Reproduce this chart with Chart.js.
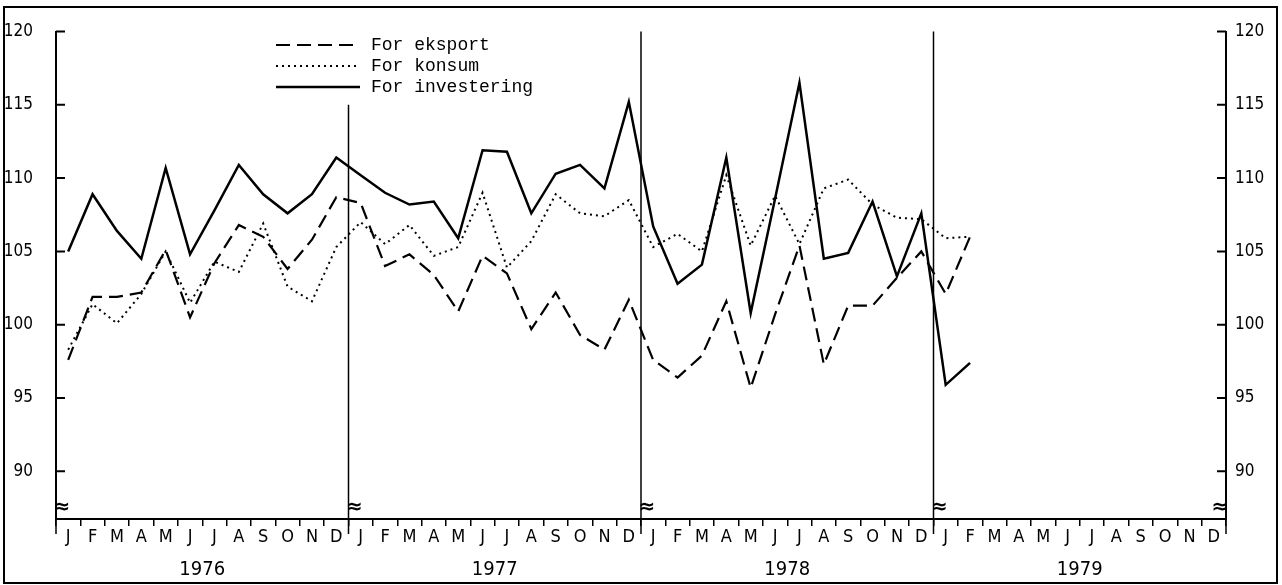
<!DOCTYPE html>
<html>
<head>
<meta charset="utf-8">
<script src="https://cdn.jsdelivr.net/npm/chart.js@4.4.1/dist/chart.umd.min.js"></script>
<style>
  html, body { margin: 0; padding: 0; background: #fff; }
  #wrap { position: relative; width: 1282px; height: 585px; }
</style>
</head>
<body>
<div id="wrap"><canvas id="chart"></canvas></div>
<script>
// month letters and years on the x axis
const monthLetters = ['J', 'F', 'M', 'A', 'M', 'J', 'J', 'A', 'S', 'O', 'N', 'D'];
const years = ['1976', '1977', '1978', '1979'];
const yTicks = [90, 95, 100, 105, 110, 115, 120];

// index values, Jan 1976 - Feb 1979
const eksport = [
  97.6, 101.9, 101.9, 102.2, 105.1, 100.5, 104.2, 106.8, 106.0, 103.8, 105.8, 108.7,
  108.3, 104.0, 104.8, 103.4, 100.9, 104.7, 103.5, 99.7, 102.2, 99.3, 98.3, 101.7,
  97.6, 96.4, 97.9, 101.6, 95.7, 100.7, 105.4, 97.3, 101.3, 101.3, 103.2, 105.0,
  102.1, 106.0
];
const konsum = [
  98.3, 101.4, 100.1, 102.1, 105.0, 101.5, 104.3, 103.6, 106.9, 102.6, 101.6, 105.3,
  107.0, 105.5, 106.8, 104.7, 105.3, 109.0, 103.9, 105.7, 108.9, 107.6, 107.4, 108.5,
  105.3, 106.2, 105.0, 110.2, 105.4, 108.8, 105.5, 109.3, 109.9, 108.2, 107.3, 107.2,
  105.9, 106.0
];
const investering = [
  105.0, 108.9, 106.4, 104.5, 110.7, 104.8, 107.8, 110.9, 108.9, 107.6, 108.9, 111.4,
  110.2, 109.0, 108.2, 108.4, 105.9, 111.9, 111.8, 107.6, 110.3, 110.9, 109.3, 115.2,
  106.7, 102.8, 104.1, 111.4, 100.8, 108.6, 116.5, 104.5, 104.9, 108.4, 103.3, 107.6,
  95.9, 97.4
];

const labels = [].concat(monthLetters, monthLetters, monthLetters, monthLetters);

Chart.defaults.font.family = "'Liberation Sans Narrow', 'DejaVu Sans Condensed', 'Liberation Sans', sans-serif";
Chart.defaults.color = '#000';

const decor = {
  id: 'decor',
  afterDraw(chart) {
    const ctx = chart.ctx;
    const a = chart.chartArea;
    const x = chart.scales.x;
    const y = chart.scales.y;
    const step = x.getPixelForValue(1) - x.getPixelForValue(0);
    ctx.save();
    ctx.strokeStyle = '#000';
    ctx.fillStyle = '#000';

    // outer frame
    ctx.lineWidth = 2;
    ctx.strokeRect(4, 7, 1273, 576);

    // inside ticks on both y axes
    ctx.lineWidth = 2;
    yTicks.forEach(v => {
      const py = y.getPixelForValue(v);
      ctx.beginPath();
      ctx.moveTo(a.left, py); ctx.lineTo(a.left + 9, py);
      ctx.moveTo(a.right - 9, py); ctx.lineTo(a.right, py);
      ctx.stroke();
    });

    // year dividers and long ticks
    ctx.lineWidth = 1.5;
    [0, 12, 24, 36, 48].forEach(b => {
      const px = x.getPixelForValue(0) - step / 2 + b * step;
      let top = a.bottom;
      if (b === 12) top = y.getPixelForValue(115);
      if (b === 24 || b === 36) top = y.getPixelForValue(120);
      ctx.beginPath();
      ctx.moveTo(px, top);
      ctx.lineTo(px, a.bottom + 15);
      ctx.stroke();
      // axis break mark
      ctx.font = "bold 20px 'DejaVu Sans'";
      ctx.textAlign = 'center';
      ctx.textBaseline = 'middle';
      ctx.fillText('\u2248', b === 48 ? px - 6 : px + 6, a.bottom - 11);
    });

    // legend
    const rows = [45, 66, 87];
    chart.data.datasets.forEach((ds, i) => {
      ctx.lineWidth = ds.borderWidth;
      ctx.setLineDash(ds.borderDash || []);
      ctx.beginPath();
      ctx.moveTo(276, rows[i]);
      ctx.lineTo(360, rows[i]);
      ctx.stroke();
      ctx.setLineDash([]);
      ctx.font = "18px 'Liberation Mono', monospace";
      ctx.textAlign = 'left';
      ctx.textBaseline = 'middle';
      ctx.fillText(ds.label, 371, rows[i]);
    });
    ctx.restore();
  }
};

const yAxis = (pos, pad) => ({
  position: pos,
  min: 86.75,
  max: 120,
  afterBuildTicks: s => { s.ticks = yTicks.map(v => ({ value: v })); },
  afterFit: s => { s.width = 56; },
  grid: { display: false, drawTicks: false },
  border: { display: true, color: '#000', width: 2 },
  ticks: { padding: pad, font: { size: 17, lineHeight: 1 } }
});

new Chart(document.getElementById('chart'), {
  type: 'line',
  data: {
    labels: labels,
    datasets: [
      { label: 'For eksport', data: eksport, borderColor: '#000', borderWidth: 2.2, borderDash: [14, 7], pointRadius: 0, tension: 0 },
      { label: 'For konsum', data: konsum, borderColor: '#000', borderWidth: 2, borderDash: [2, 4], pointRadius: 0, tension: 0 },
      { label: 'For investering', data: investering, borderColor: '#000', borderWidth: 2.5, pointRadius: 0, tension: 0 }
    ]
  },
  options: {
    responsive: true,
    maintainAspectRatio: false,
    animation: false,
    layout: { padding: { top: 27, left: 0, right: 0, bottom: 0 } },
    plugins: { legend: { display: false }, tooltip: { enabled: false } },
    scales: {
      x: {
        type: 'category',
        offset: true,
        afterFit: s => { s.height = 34; },
        grid: { offset: true, drawOnChartArea: false, drawTicks: true, tickLength: 7, color: '#000', lineWidth: 1.5 },
        border: { display: true, color: '#000', width: 2 },
        ticks: { autoSkip: false, maxRotation: 0, padding: 2, font: { size: 18, lineHeight: 1 } }
      },
      xYear: {
        type: 'category',
        labels: years,
        position: 'bottom',
        offset: true,
        afterFit: s => { s.height = 32; },
        grid: { display: false, drawTicks: false },
        border: { display: false },
        ticks: { autoSkip: false, maxRotation: 0, padding: 7, font: { size: 20, lineHeight: 1 } }
      },
      y: yAxis('left', 23),
      y2: yAxis('right', 9)
    }
  },
  plugins: [decor]
});
</script>
</body>
</html>
